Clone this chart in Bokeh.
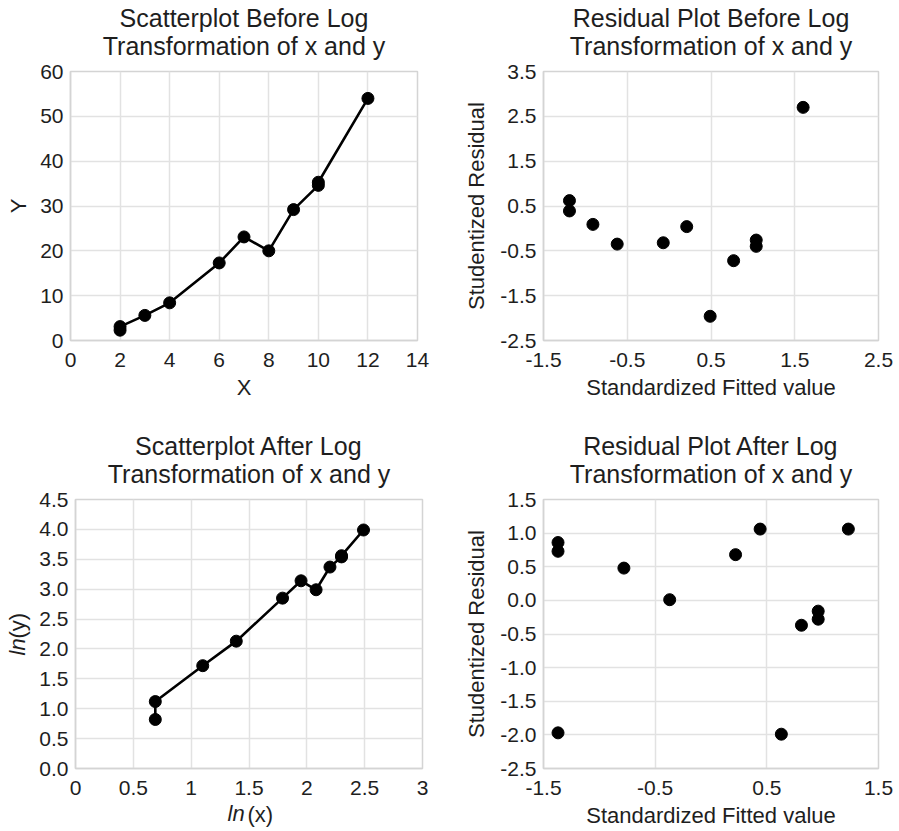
from bokeh.plotting import figure
from bokeh.layouts import column, row
from bokeh.models import FixedTicker, Range1d, Title
from bokeh.embed import file_html
from bokeh.resources import INLINE

# ---------------- data ----------------
x_raw = [2, 2, 3, 4, 6, 7, 8, 9, 10, 10, 12]
y_raw = [2.3, 3.1, 5.6, 8.4, 17.3, 23.1, 20.0, 29.2, 34.6, 35.3, 54.0]

fit_before = [-1.19, -1.19, -0.91, -0.62, -0.07, 0.21, 0.49, 0.77, 1.04, 1.04, 1.60]
res_before = [0.62, 0.39, 0.09, -0.35, -0.32, 0.04, -1.96, -0.72, -0.26, -0.40, 2.70]

ln_x = [0.69, 0.69, 1.10, 1.39, 1.79, 1.95, 2.08, 2.20, 2.30, 2.30, 2.49]
ln_y = [0.82, 1.12, 1.72, 2.13, 2.85, 3.14, 2.99, 3.37, 3.54, 3.56, 3.99]

fit_after = [-1.37, -1.37, -1.37, -0.78, -0.37, 0.22, 0.44, 0.63, 0.81, 0.96, 0.96, 1.23]
res_after = [0.86, 0.73, -1.97, 0.48, 0.01, 0.68, 1.06, -1.99, -0.37, -0.16, -0.28, 1.06]

# tick values and labels
p1_xticks = [0, 2, 4, 6, 8, 10, 12, 14]
p1_xlabels = ["0", "2", "4", "6", "8", "10", "12", "14"]
p1_yticks = [0, 10, 20, 30, 40, 50, 60]
p1_ylabels = ["0", "10", "20", "30", "40", "50", "60"]

p2_xticks = [-1.5, -0.5, 0.5, 1.5, 2.5]
p2_xlabels = ["-1.5", "-0.5", "0.5", "1.5", "2.5"]
p2_yticks = [-2.5, -1.5, -0.5, 0.5, 1.5, 2.5, 3.5]
p2_ylabels = ["-2.5", "-1.5", "-0.5", "0.5", "1.5", "2.5", "3.5"]

p3_xticks = [0, 0.5, 1, 1.5, 2, 2.5, 3]
p3_xlabels = ["0", "0.5", "1", "1.5", "2", "2.5", "3"]
p3_yticks = [0, 0.5, 1, 1.5, 2, 2.5, 3, 3.5, 4, 4.5]
p3_ylabels = ["0.0", "0.5", "1.0", "1.5", "2.0", "2.5", "3.0", "3.5", "4.0", "4.5"]

p4_xticks = [-1.5, -0.5, 0.5, 1.5]
p4_xlabels = ["-1.5", "-0.5", "0.5", "1.5"]
p4_yticks = [-2.5, -2, -1.5, -1, -0.5, 0, 0.5, 1, 1.5]
p4_ylabels = ["-2.5", "-2.0", "-1.5", "-1.0", "-0.5", "0.0", "0.5", "1.0", "1.5"]

titles = [
    ("Scatterplot Before Log", "Transformation of x and y"),
    ("Residual Plot Before Log", "Transformation of x and y"),
    ("Scatterplot After Log", "Transformation of x and y"),
    ("Residual Plot After Log", "Transformation of x and y"),
]
# axis labels of the log panel: italic "ln" + upright "(x)" / "(y)"
ln_xlabel = ("ln", "(x)")
ln_ylabel = ("ln", "(y)")

FONT = "Liberation Sans"
GRID = "#e2e2e2"
EDGE = "#d4d4d4"
TXT = "#1e1e1e"


def make(title, w, h, xr, yr, xt, xl, yt, yl, bl, br, bt, bb, xlabel, ylabel, ystand):
    p = figure(width=w, height=h, output_backend="svg", toolbar_location=None,
               x_range=Range1d(*xr), y_range=Range1d(*yr),
               min_border_left=bl, min_border_right=br,
               min_border_top=bt, min_border_bottom=bb)
    tkw = dict(align="center", text_font=FONT, text_font_size="25px",
               text_font_style="normal", text_color=TXT)
    p.title.text = title[0]
    p.title.align = "center"
    p.title.text_font = FONT
    p.title.text_font_size = "25px"
    p.title.text_font_style = "normal"
    p.title.text_color = TXT
    p.title.standoff = -27
    p.add_layout(Title(text=title[1], standoff=23, **tkw), "above")
    p.outline_line_color = EDGE
    p.outline_line_width = 1.5
    p.xaxis.ticker = FixedTicker(ticks=xt)
    p.yaxis.ticker = FixedTicker(ticks=yt)
    p.xaxis.major_label_overrides = {t: s for t, s in zip(xt, xl)}
    p.yaxis.major_label_overrides = {t: s for t, s in zip(yt, yl)}
    for ax in (p.xaxis[0], p.yaxis[0]):
        ax.axis_line_color = EDGE
        ax.axis_line_width = 1.5
        ax.major_tick_line_color = None
        ax.minor_tick_line_color = None
        ax.major_tick_out = 0
        ax.major_tick_in = 0
        ax.minor_tick_out = 0
        ax.minor_tick_in = 0
        ax.major_label_text_font = FONT
        ax.major_label_text_font_size = "21px"
        ax.major_label_text_color = TXT
        ax.axis_label_text_font = FONT
        ax.axis_label_text_font_size = "22px"
        ax.axis_label_text_font_style = "normal"
        ax.axis_label_text_color = TXT
    p.xaxis.major_label_standoff = 12
    p.yaxis.major_label_standoff = 7
    p.xaxis.axis_label_standoff = 5
    p.yaxis.axis_label_standoff = ystand
    p.xaxis.axis_label = xlabel
    p.yaxis.axis_label = ylabel
    p.xgrid.grid_line_color = GRID
    p.ygrid.grid_line_color = GRID
    p.xgrid.grid_line_width = 1.5
    p.ygrid.grid_line_width = 1.5
    return p


p1 = make(titles[0], 450, 410,
          (0, 14), (0, 60), p1_xticks, p1_xlabels, p1_yticks, p1_ylabels,
          70, 33, 71, 70, "X", "Y", 6)
p1.line(x_raw, y_raw, line_color="black", line_width=2.6)
p1.scatter(x_raw, y_raw, size=12, color="black")

p2 = make(titles[1], 449, 410,
          (-1.5, 2.5), (-2.5, 3.5), p2_xticks, p2_xlabels, p2_yticks, p2_ylabels,
          93, 21, 71, 70, "Standardized Fitted value", "Studentized Residual", 8)
p2.scatter(fit_before, res_before, size=12, color="black")

p3 = make(titles[2], 450, 421,
          (0, 3), (0, 4.5), p3_xticks, p3_xlabels, p3_yticks, p3_ylabels,
          75, 28, 89, 63, None, None, 0)
p3.line(ln_x, ln_y, line_color="black", line_width=2.6)
p3.scatter(ln_x, ln_y, size=12, color="black")

# the "ln(x)" / "ln(y)" labels: two pieces each, italic "ln"
lkw = dict(text_font=FONT, text_font_size="22px", text_color=TXT, align="left")
p3.add_layout(Title(text=ln_xlabel[0], text_font_style="italic",
                    vertical_align="bottom", standoff=3, offset=152, **lkw), "below")
p3.add_layout(Title(text=ln_xlabel[1], text_font_style="normal",
                    vertical_align="top", standoff=-52, offset=172, **lkw), "below")
p3.add_layout(Title(text=ln_ylabel[0], text_font_style="italic",
                    vertical_align="top", standoff=9, offset=113, **lkw), "left")
p3.add_layout(Title(text=ln_ylabel[1], text_font_style="normal",
                    vertical_align="bottom", standoff=-58, offset=130, **lkw), "left")

p4 = make(titles[3], 449, 421,
          (-1.5, 1.5), (-2.5, 1.5), p4_xticks, p4_xlabels, p4_yticks, p4_ylabels,
          93, 21, 89, 63, "Standardized Fitted value", "Studentized Residual", 8)
p4.scatter(fit_after, res_after, size=12, color="black")

layout = column(row(p1, p2), row(p3, p4))
open("out.html", "w").write(file_html(layout, INLINE))
